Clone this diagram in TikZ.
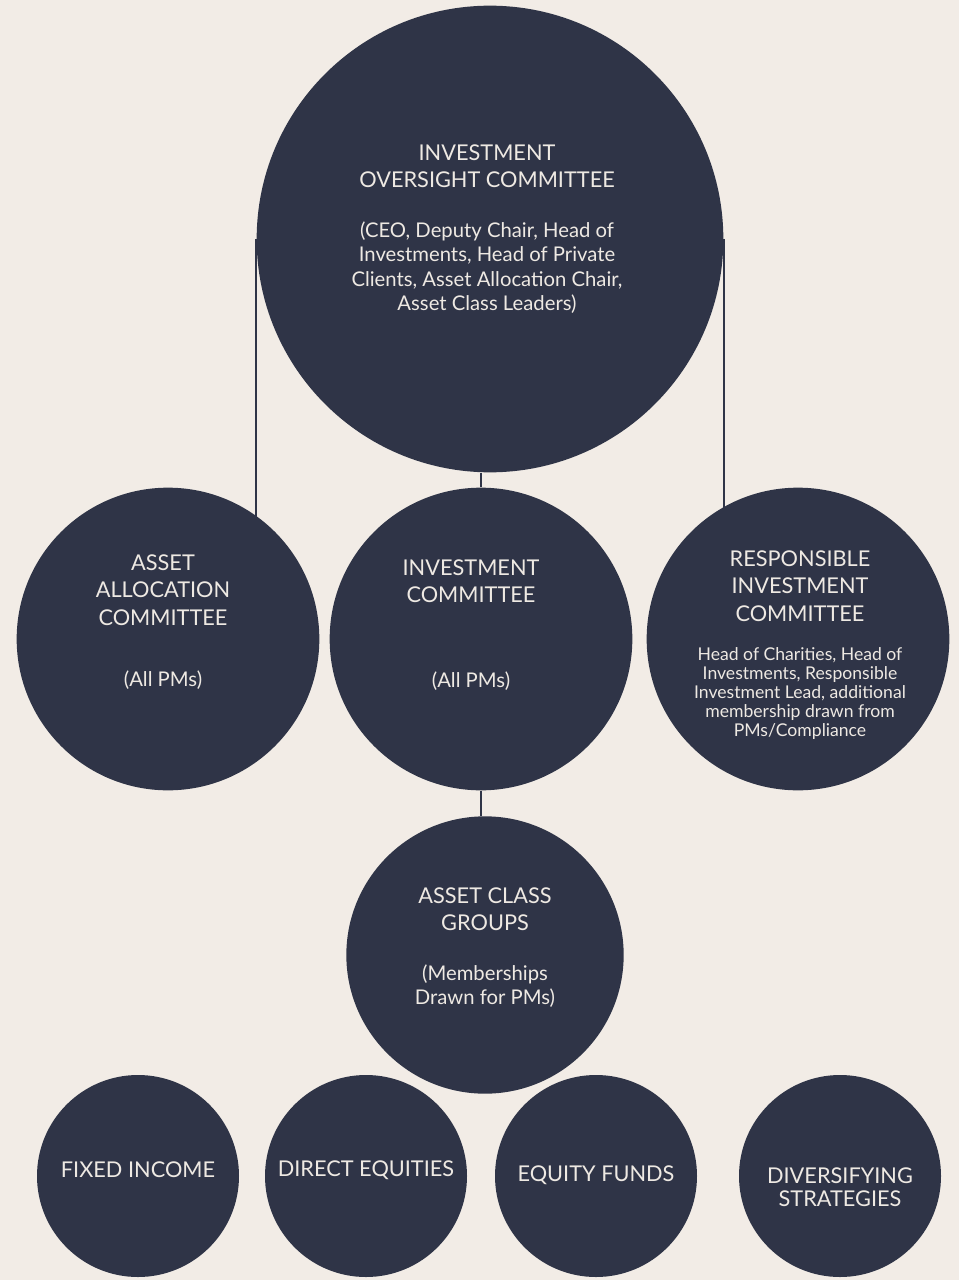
\documentclass[tikz,border=0pt]{standalone}
\usepackage{fontspec}
\setmainfont{Lato}
\definecolor{paper}{RGB}{242,236,230}
\definecolor{navy}{RGB}{47,52,71}
\definecolor{cream}{RGB}{238,233,227}
\tikzset{
  bubble/.style={circle, fill=navy, inner sep=0pt},
  head/.style={text=cream, align=center, font=\fontsize{16.3}{20.5}\selectfont},
  body/.style={text=cream, align=center, font=\fontsize{15.2}{18.3}\selectfont},
  fine/.style={text=cream, align=center, font=\fontsize{13.2}{14.1}\selectfont},
  link/.style={draw=navy, line width=1.6pt}
}
\begin{document}
\begin{tikzpicture}[x=0.75pt,y=-0.75pt]
  \fill[paper] (0,0) rectangle (959,1280);
  \useasboundingbox (0,0) rectangle (959,1280);
  % committees
  \path (490,239)  node[bubble, minimum size=350pt]   (ioc) {}
        (168,639)  node[bubble, minimum size=227pt]   (aac) {}
        (481,639)  node[bubble, minimum size=227pt]   (ic)  {}
        (798,639)  node[bubble, minimum size=227pt]   (ric) {}
        (485,955)  node[bubble, minimum size=208pt]   (acg) {};
  % asset classes
  \path (138,1176) node[bubble, minimum size=151.5pt] (fi)  {}
        (366,1176) node[bubble, minimum size=151.5pt] (de)  {}
        (596,1176) node[bubble, minimum size=151.5pt] (ef)  {}
        (840,1176) node[bubble, minimum size=151.5pt] (ds)  {};
  \draw[link] (ioc.west) -- (ioc.west |- aac.north east);
  \draw[link] (ioc.east) -- (ioc.east |- ric.north west);
  \draw[link] (ic.north |- ioc.south) -- (ic.north);
  \draw[link] (ic.south) -- (ic.south |- acg.north);
  % texts
  \node[head] (ioc-h) at (487,166.5) {INVESTMENT\\OVERSIGHT COMMITTEE};
  \node[body] (ioc-b) at (487,267.5) {(CEO, Deputy Chair, Head of\\Investments, Head of Private\\Clients, Asset Allocation Chair,\\Asset Class Leaders)};
  \node[head] (aac-h) at (163,590) {ASSET\\ALLOCATION\\COMMITTEE};
  \node[body] (aac-b) at (163,680) {(All PMs)};
  \node[head] (ic-h)  at (471,581) {INVESTMENT\\COMMITTEE};
  \node[body] (ic-b)  at (471,681) {(All PMs)};
  \node[head] (ric-h) at (800,586) {RESPONSIBLE\\INVESTMENT\\COMMITTEE};
  \node[fine] (ric-b) at (800,693.5) {Head of Charities, Head of\\Investments, Responsible\\Investment Lead, additional\\membership drawn from\\PMs/Compliance};
  \node[head] (acg-h) at (485,909) {ASSET CLASS\\GROUPS};
  \node[body] (acg-b) at (485,986) {(Memberships\\Drawn for PMs)};
  \node[head] (fi-h)  at (138,1170) {FIXED INCOME};
  \node[head] (de-h)  at (366,1170) {DIRECT EQUITIES};
  \node[head] (ef-h)  at (596,1175) {EQUITY FUNDS};
  \node[head, font=\fontsize{16.3}{17.5}\selectfont] (ds-h) at (840,1187.5) {DIVERSIFYING\\STRATEGIES};
\end{tikzpicture}
\end{document}
